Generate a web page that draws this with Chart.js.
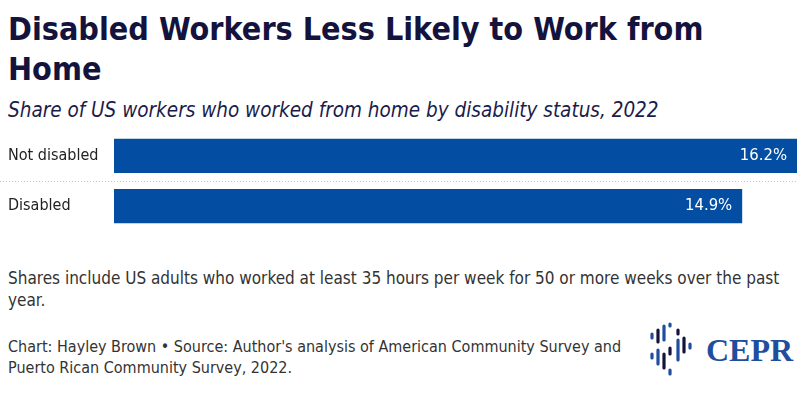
<!DOCTYPE html>
<html>
<head>
<meta charset="utf-8">
<script src="https://cdn.jsdelivr.net/npm/chart.js@4"></script>
<style>
  body { margin: 0; width: 800px; height: 397px; background: #fff; position: relative; overflow: hidden; font-family: "DejaVu Sans Condensed", "Noto Sans", sans-serif; }
  #title { position: absolute; left: 8px; top: 9px; width: 790px; font-size: 32px; line-height: 40px; font-weight: bold; color: #13133d; }
  #subtitle { position: absolute; left: 8px; top: 98px; font-size: 20.5px; font-style: italic; color: #1c1c4a; }
  #wrap { position: absolute; left: 0; top: 121px; width: 800px; height: 120px; }
  #note { position: absolute; left: 8px; top: 267px; width: 795px; font-size: 17px; line-height: 22px; color: #333; }
  #source { position: absolute; left: 8px; top: 336px; width: 636px; font-size: 16px; line-height: 21px; color: #333; }
  #logo { position: absolute; left: 646px; top: 320px; }
</style>
</head>
<body>
<div id="title">Disabled Workers Less Likely to Work from Home</div>
<div id="subtitle">Share of US workers who worked from home by disability status, 2022</div>
<div id="wrap"><canvas id="chart"></canvas></div>
<div id="note">Shares include US adults who worked at least 35 hours per week for 50 or more weeks over the past year.</div>
<div id="source">Chart: Hayley Brown • Source: Author's analysis of American Community Survey and Puerto Rican Community Survey, 2022.</div>
<svg id="logo" width="154" height="60" viewBox="0 0 154 60">
  <g stroke-linecap="round" stroke-width="3.2">
    <line x1="6" y1="14" x2="6" y2="18" stroke="#1f4e9e"/>
    <line x1="12" y1="10" x2="12" y2="22" stroke="#13133d"/>
    <line x1="18" y1="6" x2="18" y2="20" stroke="#1f4e9e"/>
    <line x1="24" y1="4" x2="24" y2="6" stroke="#1f4e9e"/>
    <line x1="32" y1="10" x2="32" y2="14" stroke="#13133d"/>
    <line x1="32" y1="20" x2="32" y2="40" stroke="#1f4e9e"/>
    <line x1="38" y1="18" x2="38" y2="32" stroke="#13133d"/>
    <line x1="44" y1="24" x2="44" y2="28" stroke="#1f4e9e"/>
    <line x1="6" y1="34" x2="6" y2="38" stroke="#1f4e9e"/>
    <line x1="12" y1="30" x2="12" y2="44" stroke="#1f4e9e"/>
    <line x1="18" y1="34" x2="18" y2="48" stroke="#13133d"/>
    <line x1="24" y1="28" x2="24" y2="34" stroke="#13133d"/>
    <line x1="24" y1="50" x2="24" y2="54" stroke="#1f4e9e"/>
  </g>
  <text x="60" y="41" font-family="Liberation Serif, DejaVu Serif, serif" font-weight="bold" font-size="32" fill="#1f4e9e">CEPR</text>
</svg>
<script>
  // data
  const categories = ['Not disabled', 'Disabled'];
  const shares = [16.2, 14.9];
  const xMax = 16.2;

  const barColor = '#034ea2';
  const fontFamily = '"DejaVu Sans Condensed", "Noto Sans", sans-serif';

  // value labels drawn inside the end of each bar
  const valueLabels = {
    id: 'valueLabels',
    afterDatasetsDraw(chart) {
      const ctx = chart.ctx;
      const meta = chart.getDatasetMeta(0);
      ctx.save();
      ctx.font = '16.5px ' + fontFamily;
      ctx.fillStyle = '#fff';
      ctx.textAlign = 'right';
      ctx.textBaseline = 'middle';
      meta.data.forEach((bar, i) => {
        ctx.fillText(shares[i].toFixed(1) + '%', bar.x - 10, bar.y);
      });
      ctx.restore();
    }
  };

  // dotted separator between the two rows
  const separator = {
    id: 'separator',
    beforeDatasetsDraw(chart) {
      const ctx = chart.ctx;
      const y = chart.scales.y.getPixelForValue(0.5);
      ctx.save();
      ctx.strokeStyle = '#c8c8c8';
      ctx.lineWidth = 1;
      ctx.setLineDash([1, 2]);
      ctx.beginPath();
      ctx.moveTo(0, Math.round(y) + 0.5);
      ctx.lineTo(chart.chartArea.right, Math.round(y) + 0.5);
      ctx.stroke();
      ctx.restore();
    }
  };

  new Chart(document.getElementById('chart'), {
    type: 'bar',
    data: {
      labels: categories,
      datasets: [{
        data: shares,
        backgroundColor: barColor,
        borderWidth: 0,
        categoryPercentage: 1,
        barPercentage: 0.68
      }]
    },
    options: {
      indexAxis: 'y',
      responsive: true,
      maintainAspectRatio: false,
      animation: false,
      layout: { padding: { left: 8, right: 3, top: 0, bottom: 0 } },
      plugins: {
        legend: { display: false },
        tooltip: { enabled: false }
      },
      scales: {
        x: { display: false, min: 0, max: xMax },
        y: {
          grid: { display: false },
          border: { display: false },
          afterFit(scale) { scale.width = 106; },
          ticks: {
            crossAlign: 'far',
            padding: 0,
            color: '#222',
            font: { family: fontFamily, size: 16 }
          }
        }
      }
    },
    plugins: [separator, valueLabels]
  });
</script>
</body>
</html>
